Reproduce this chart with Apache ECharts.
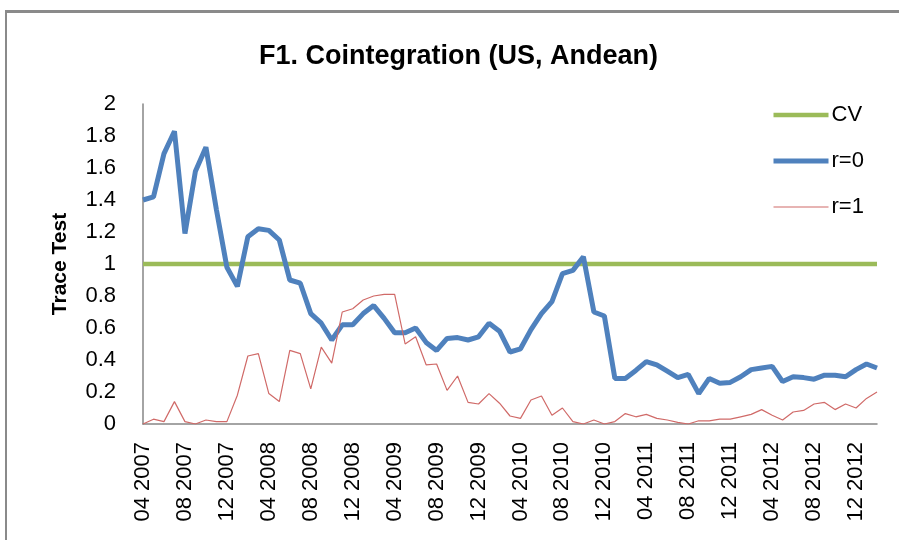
<!DOCTYPE html>
<html>
<head>
<meta charset="utf-8">
<script src="https://cdn.jsdelivr.net/npm/echarts@6/dist/echarts.min.js"></script>
<style>
  html, body { margin: 0; padding: 0; background: #fff; }
  #chart { position: absolute; left: 0; top: 0; width: 899px; height: 540px; }
  #frame { position: absolute; left: 5px; top: 10px; width: 900px; height: 540px;
           border-left: 2px solid #8a8a8a; border-top: 3px solid #8a8a8a; pointer-events: none; }
</style>
</head>
<body>
<div id="chart"></div>
<div id="frame"></div>
<script>
// months, 04 2007 .. 02 2013
const months = [
  '04 2007', '05 2007', '06 2007', '07 2007', '08 2007', '09 2007', '10 2007', '11 2007', '12 2007',
  '01 2008', '02 2008', '03 2008', '04 2008', '05 2008', '06 2008', '07 2008', '08 2008', '09 2008', '10 2008', '11 2008', '12 2008',
  '01 2009', '02 2009', '03 2009', '04 2009', '05 2009', '06 2009', '07 2009', '08 2009', '09 2009', '10 2009', '11 2009', '12 2009',
  '01 2010', '02 2010', '03 2010', '04 2010', '05 2010', '06 2010', '07 2010', '08 2010', '09 2010', '10 2010', '11 2010', '12 2010',
  '01 2011', '02 2011', '03 2011', '04 2011', '05 2011', '06 2011', '07 2011', '08 2011', '09 2011', '10 2011', '11 2011', '12 2011',
  '01 2012', '02 2012', '03 2012', '04 2012', '05 2012', '06 2012', '07 2012', '08 2012', '09 2012', '10 2012', '11 2012', '12 2012',
  '01 2013', '02 2013'
]

const cvValue = 1

const r0 = [
  1.40, 1.42, 1.69, 1.83, 1.19, 1.58, 1.73, 1.34, 0.98,
  0.86, 1.17, 1.22, 1.21, 1.15, 0.90, 0.88, 0.69, 0.63, 0.525, 0.62, 0.62,
  0.69, 0.74, 0.66, 0.57, 0.57, 0.60, 0.51, 0.46, 0.535, 0.54, 0.525, 0.545,
  0.63, 0.58, 0.45, 0.47, 0.59, 0.69, 0.765, 0.94, 0.96, 1.045, 0.70, 0.675,
  0.285, 0.285, 0.335, 0.39, 0.37, 0.33, 0.29, 0.31, 0.19, 0.285, 0.255, 0.26,
  0.295, 0.34, 0.35, 0.36, 0.265, 0.295, 0.29, 0.28, 0.305, 0.305, 0.295, 0.34,
  0.375, 0.35
]

const r1 = [
  0.00, 0.03, 0.015, 0.14, 0.015, 0.00, 0.025, 0.015, 0.015,
  0.18, 0.425, 0.44, 0.19, 0.14, 0.46, 0.44, 0.22, 0.48, 0.38, 0.70, 0.72,
  0.775, 0.80, 0.81, 0.81, 0.50, 0.545, 0.37, 0.375, 0.21, 0.30, 0.135, 0.125,
  0.19, 0.13, 0.05, 0.035, 0.15, 0.175, 0.055, 0.10, 0.015, 0.00, 0.025, 0.00,
  0.015, 0.065, 0.045, 0.06, 0.035, 0.025, 0.01, 0.00, 0.02, 0.02, 0.03, 0.03,
  0.045, 0.06, 0.09, 0.055, 0.025, 0.075, 0.085, 0.125, 0.135, 0.09, 0.125, 0.10,
  0.16, 0.20
]

const font = 'Liberation Sans, Arial, sans-serif'
const myChart = echarts.init(document.getElementById('chart'))

let option = {
  animation: false,
  title: {
    text: 'F1. Cointegration (US, Andean)',
    left: 254,
    top: 38,
    textStyle: { fontFamily: font, fontSize: 27, fontWeight: 'bold', color: '#000' }
  },
  legend: {
    orient: 'vertical',
    left: 771,
    top: 104,
    padding: 0,
    itemWidth: 55,
    itemHeight: 10,
    itemGap: 24,
    itemStyle: { opacity: 0 },
    data: [
      { name: 'CV', lineStyle: { width: 4.5 } },
      { name: 'r=0', lineStyle: { width: 5 } },
      { name: 'r=1', lineStyle: { width: 1.2 } }
    ],
    textStyle: { fontFamily: font, fontSize: 22, color: '#000', padding: [0, 0, 0, -2] }
  },
  grid: {
    left: 143,
    right: 22,
    top: 104,
    bottom: 116
  },
  xAxis: {
    type: 'category',
    boundaryGap: false,
    data: months,
    axisLine: { lineStyle: { color: '#868686', width: 1.5 } },
    axisTick: { show: false },
    axisLabel: {
      interval: 3,
      rotate: 90,
      margin: 18,
      fontFamily: font,
      fontSize: 22,
      color: '#000'
    }
  },
  yAxis: {
    type: 'value',
    min: 0,
    max: 2,
    interval: 0.2,
    name: 'Trace Test',
    nameLocation: 'middle',
    nameGap: 72,
    nameTextStyle: { fontFamily: font, fontSize: 21, fontWeight: 'bold', color: '#000' },
    axisLine: { show: true, lineStyle: { color: '#868686', width: 1.5 } },
    axisTick: { show: false },
    splitLine: { show: false },
    axisLabel: {
      margin: 27,
      fontFamily: font,
      fontSize: 22,
      color: '#000',
      formatter: function (v) { return String(Math.round(v * 10) / 10) }
    }
  },
  series: [
    {
      name: 'CV',
      type: 'line',
      symbol: 'none',
      data: months.map(() => cvValue),
      lineStyle: { color: '#9BBB59', width: 4.5 },
      itemStyle: { color: '#9BBB59' }
    },
    {
      name: 'r=0',
      type: 'line',
      symbol: 'none',
      data: r0,
      lineStyle: { color: '#4F81BD', width: 5 },
      itemStyle: { color: '#4F81BD' }
    },
    {
      name: 'r=1',
      type: 'line',
      symbol: 'none',
      data: r1,
      lineStyle: { color: '#D06A68', width: 1.2 },
      itemStyle: { color: '#D06A68' }
    }
  ]
}
myChart.setOption(option)
</script>
</body>
</html>
